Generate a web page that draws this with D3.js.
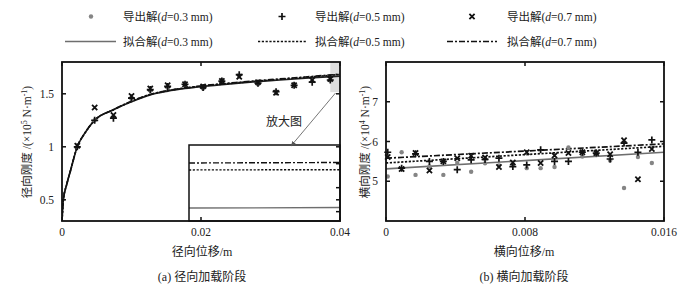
<!DOCTYPE html>
<html>
<head>
<meta charset="utf-8">
<script src="https://cdn.jsdelivr.net/npm/d3@7"></script>
<style>
  body { margin: 0; background: #fff; }
  text { font-family: "Liberation Serif", "Noto Sans CJK SC", serif; fill: #222; }
</style>
</head>
<body>
<svg></svg>
<script>
const width = 700, height = 290;
const svg = d3.select("svg").attr("width", width).attr("height", height);

// ---- data (a) radial loading ----
const radialX = [0.0022, 0.0047, 0.0074, 0.0100, 0.0127, 0.0152, 0.0177, 0.0203, 0.0230, 0.0255, 0.0282, 0.0308, 0.0334, 0.0360, 0.0386];
const radial03 = [1.00, 1.25, 1.28, 1.45, 1.53, 1.56, 1.59, 1.55, 1.63, 1.67, 1.59, 1.52, 1.59, 1.62, 1.63];
const radial05 = [1.00, 1.25, 1.27, 1.46, 1.54, 1.57, 1.59, 1.56, 1.62, 1.68, 1.60, 1.52, 1.58, 1.61, 1.63];
const radial07 = [1.01, 1.37, 1.30, 1.48, 1.55, 1.58, 1.59, 1.57, 1.62, 1.66, 1.61, 1.51, 1.58, 1.63, 1.64];

const fitX = [0, 0.0002, 0.0007, 0.0012, 0.0022, 0.0033, 0.0047, 0.0074, 0.0100, 0.0127, 0.0152, 0.0177, 0.0203, 0.025, 0.030, 0.035, 0.040];
const fit03 = [0.30, 0.50, 0.65, 0.77, 1.00, 1.13, 1.25, 1.35, 1.425, 1.49, 1.525, 1.55, 1.57, 1.598, 1.624, 1.648, 1.667];
const fit05 = [0.30, 0.50, 0.65, 0.77, 1.00, 1.13, 1.25, 1.35, 1.428, 1.493, 1.529, 1.554, 1.574, 1.603, 1.630, 1.655, 1.6825];
const fit07 = [0.30, 0.50, 0.65, 0.77, 1.00, 1.13, 1.25, 1.35, 1.430, 1.495, 1.531, 1.556, 1.577, 1.606, 1.634, 1.659, 1.6855];

// zoomed inset (end of the fit curves)
const insetX = [0.0386, 0.0400];
const inset03 = [1.6665, 1.6667];
const inset05 = [1.6824, 1.6825];
const inset07 = [1.6853, 1.6855];
const insetTicks = [1.665, 1.675, 1.685];

// ---- data (b) lateral loading ----
const latX = [0.0001, 0.0009, 0.0017, 0.0025, 0.0033, 0.0041, 0.0049, 0.0057, 0.0065, 0.0073, 0.0081, 0.0089, 0.0097, 0.0105, 0.0113, 0.0121, 0.0129, 0.0137, 0.0145, 0.0153];
const lat03 = [5.12, 5.73, 5.16, 5.37, 5.16, 5.46, 5.24, 5.45, 5.40, 5.42, 5.33, 5.33, 5.36, 5.85, 5.62, 5.66, 5.52, 4.83, 5.61, 5.46];
const lat05 = [5.73, 5.33, 5.69, 5.50, 5.50, 5.29, 5.54, 5.55, 5.58, 5.37, 5.41, 5.79, 5.50, 5.50, 5.73, 5.71, 5.56, 5.96, 5.73, 6.04];
const lat07 = [5.61, 5.31, 5.71, 5.27, 5.50, 5.58, 5.64, 5.60, 5.36, 5.47, 5.73, 5.46, 5.65, 5.71, 5.73, 5.71, 5.68, 6.03, 5.05, 5.81];

const latFitX = [0, 0.016];
const latFit03 = [5.31, 5.73];
const latFit05 = [5.46, 5.88];
const latFit07 = [5.58, 5.94];

const radialTicksX = [0, 0.02, 0.04], radialTicksY = [0.5, 1, 1.5];
const latTicksX = [0, 0.008, 0.016], latTicksY = [5, 6, 7];

const legendLabels = ["导出解", "拟合解"];
const dValues = ["0.3", "0.5", "0.7"];

// ---- styles ----
const dash = { "0.3": null, "0.5": "2.2,1.6", "0.7": "6,2,2,2" };
const lineColor = { "0.3": "#6e6e6e", "0.5": "#111", "0.7": "#111" };

function drawMarker(g, kind, x, y) {
  if (kind === "0.3") {
    g.append("circle").attr("cx", x).attr("cy", y).attr("r", 2.2).attr("fill", "#858585");
  } else if (kind === "0.5") {
    g.append("path").attr("d", `M${x - 3.5},${y}H${x + 3.5}M${x},${y - 3.5}V${y + 3.5}`)
      .attr("stroke", "#111").attr("stroke-width", 1.7);
  } else {
    g.append("path").attr("d", `M${x - 2.6},${y - 2.6}L${x + 2.6},${y + 2.6}M${x - 2.6},${y + 2.6}L${x + 2.6},${y - 2.6}`)
      .attr("stroke", "#111").attr("stroke-width", 1.8);
  }
}

function drawFrame(g, x, y, ticksX, ticksY, fmtX, fmtY) {
  const [x0, x1] = x.range(), [y0, y1] = y.range();
  const tk = 4;
  ticksX.forEach(t => {
    g.append("line").attr("x1", x(t)).attr("x2", x(t)).attr("y1", y0).attr("y2", y0 - tk).attr("stroke", "#111").attr("stroke-width", 1.5);
    g.append("line").attr("x1", x(t)).attr("x2", x(t)).attr("y1", y1).attr("y2", y1 + tk).attr("stroke", "#111").attr("stroke-width", 1.5);
    g.append("text").attr("x", x(t)).attr("y", y0 + 15).attr("text-anchor", "middle").attr("font-size", 11.5).text(fmtX(t));
  });
  ticksY.forEach(t => {
    g.append("line").attr("x1", x0).attr("x2", x0 + tk).attr("y1", y(t)).attr("y2", y(t)).attr("stroke", "#111").attr("stroke-width", 1.5);
    g.append("line").attr("x1", x1).attr("x2", x1 - tk).attr("y1", y(t)).attr("y2", y(t)).attr("stroke", "#111").attr("stroke-width", 1.5);
    g.append("text").attr("x", x0 - 8).attr("y", y(t) + 4).attr("text-anchor", "end").attr("font-size", 11.5).text(fmtY(t));
  });
  g.append("rect").attr("x", x0).attr("y", y1).attr("width", x1 - x0).attr("height", y0 - y1)
    .attr("fill", "none").attr("stroke", "#111").attr("stroke-width", 1.8);
}

function yLabel(g, cx, cy, power) {
  const t = g.append("text").attr("transform", `translate(${cx},${cy}) rotate(-90)`)
    .attr("text-anchor", "middle").attr("font-size", 11.5);
  return t;
}

// ---- legend ----
const legend = svg.append("g");
const legCols = [{ m: 91, l0: 65, l1: 116, t: 123 }, { m: 282, l0: 258, l1: 306, t: 315 }, { m: 472, l0: 447, l1: 497, t: 507 }];
dValues.forEach((d, i) => {
  const c = legCols[i];
  drawMarker(legend, d, c.m, 16.5);
  legend.append("line").attr("x1", c.l0).attr("x2", c.l1).attr("y1", 41.5).attr("y2", 41.5)
    .attr("stroke", lineColor[d]).attr("stroke-width", 1.3).attr("stroke-dasharray", dash[d]);
  [16.5, 41.5].forEach((yy, k) => {
    const t = legend.append("text").attr("x", c.t).attr("y", yy + 4).attr("font-size", 11.5);
    t.append("tspan").text(legendLabels[k] + "(");
    t.append("tspan").attr("font-style", "italic").text("d");
    t.append("tspan").text("=" + d + " mm)");
  });
});

// ---- (a) radial ----
const xa = d3.scaleLinear().domain([0, 0.04]).range([62, 340]);
const ya = d3.scaleLinear().domain([0.3, 1.8]).range([221, 62]);
const ga = svg.append("g");
svg.append("clipPath").attr("id", "clipA").append("rect").attr("x", 62).attr("y", 62).attr("width", 278).attr("height", 159);

// highlighted zoom region
ga.append("rect").attr("x", xa(0.0386)).attr("y", ya(1.8) + 1).attr("width", xa(0.04) - xa(0.0386)).attr("height", ya(1.525) - ya(1.8))
  .attr("fill", "#dedede");

const fits = [fit03, fit05, fit07];
const lineA = vals => d3.line().x((d, i) => xa(fitX[i])).y(d => ya(d)).curve(d3.curveMonotoneX)(vals);
dValues.forEach((d, k) => {
  ga.append("path").attr("d", lineA(fits[k])).attr("fill", "none").attr("clip-path", "url(#clipA)")
    .attr("stroke", k === 0 ? "#222" : "#111").attr("stroke-width", 1.6).attr("stroke-dasharray", dash[d]);
});
const radialSets = [radial03, radial05, radial07];
dValues.forEach((d, k) => {
  radialSets[k].forEach((v, i) => drawMarker(ga, d, xa(radialX[i]), ya(v)));
});

// inset
const xi = d3.scaleLinear().domain(d3.extent(insetX)).range([189, 340]);
const yi = d3.scaleLinear().domain([1.6611, 1.6928]).range([221, 145]);
ga.append("rect").attr("x", 189).attr("y", 145).attr("width", 151).attr("height", 76).attr("fill", "#fff");
[inset03, inset05, inset07].forEach((vals, k) => {
  const d = dValues[k];
  ga.append("path").attr("d", d3.line().x((v, i) => xi(insetX[i])).y(v => yi(v))(vals))
    .attr("fill", "none").attr("stroke", lineColor[d]).attr("stroke-width", 1.4).attr("stroke-dasharray", dash[d]);
});
insetTicks.forEach(t => {
  ga.append("line").attr("x1", 340).attr("x2", 336).attr("y1", yi(t)).attr("y2", yi(t)).attr("stroke", "#111").attr("stroke-width", 1.5);
});
ga.append("rect").attr("x", 189).attr("y", 145).attr("width", 151).attr("height", 76)
  .attr("fill", "none").attr("stroke", "#111").attr("stroke-width", 1.5);

drawFrame(ga, xa, ya, radialTicksX, radialTicksY, d3.format(""), d3.format(""));

// arrow + label
svg.append("defs").append("marker").attr("id", "arr").attr("viewBox", "0 0 10 10").attr("refX", 9).attr("refY", 5)
  .attr("markerWidth", 6).attr("markerHeight", 6).attr("orient", "auto")
  .append("path").attr("d", "M0,1L10,5L0,9Z").attr("fill", "#555");
ga.append("line").attr("x1", 335.5).attr("y1", 93).attr("x2", 291).attr("y2", 146)
  .attr("stroke", "#666").attr("stroke-width", 0.9).attr("marker-end", "url(#arr)");
ga.append("text").attr("x", 284).attr("y", 126).attr("text-anchor", "middle").attr("font-size", 12).attr("fill", "#444").text("放大图");

const la = yLabel(ga, 31, 142);
la.append("tspan").text("径向刚度 /(×10");
la.append("tspan").attr("font-size", 8).attr("dy", -4).text("5");
la.append("tspan").attr("dy", 4).text(" N·m");
la.append("tspan").attr("font-size", 8).attr("dy", -4).text("-1");
la.append("tspan").attr("dy", 4).text(")");

ga.append("text").attr("x", 202).attr("y", 256).attr("text-anchor", "middle").attr("font-size", 12).text("径向位移/m");
ga.append("text").attr("x", 202).attr("y", 281).attr("text-anchor", "middle").attr("font-size", 12).text("(a) 径向加载阶段");

// ---- (b) lateral ----
const xb = d3.scaleLinear().domain([0, 0.016]).range([386, 664]);
const yb = d3.scaleLinear().domain([4, 8]).range([221, 62]);
const gb = svg.append("g");
const latFits = [latFit03, latFit05, latFit07];
dValues.forEach((d, k) => {
  gb.append("path").attr("d", d3.line().x((v, i) => xb(latFitX[i])).y(v => yb(v))(latFits[k]))
    .attr("fill", "none").attr("stroke", lineColor[d]).attr("stroke-width", 1.7).attr("stroke-dasharray", dash[d]);
});
const latSets = [lat03, lat05, lat07];
dValues.forEach((d, k) => {
  latSets[k].forEach((v, i) => drawMarker(gb, d, xb(latX[i]), yb(v)));
});
drawFrame(gb, xb, yb, latTicksX, latTicksY, d3.format(""), d3.format(""));

const lb = yLabel(gb, 369, 142);
lb.append("tspan").text("横向刚度 /(×10");
lb.append("tspan").attr("font-size", 8).attr("dy", -4).text("4");
lb.append("tspan").attr("dy", 4).text(" N·m");
lb.append("tspan").attr("font-size", 8).attr("dy", -4).text("-1");
lb.append("tspan").attr("dy", 4).text(")");

gb.append("text").attr("x", 524).attr("y", 256).attr("text-anchor", "middle").attr("font-size", 12).text("横向位移/m");
gb.append("text").attr("x", 524).attr("y", 281).attr("text-anchor", "middle").attr("font-size", 12).text("(b) 横向加载阶段");
</script>
</body>
</html>
